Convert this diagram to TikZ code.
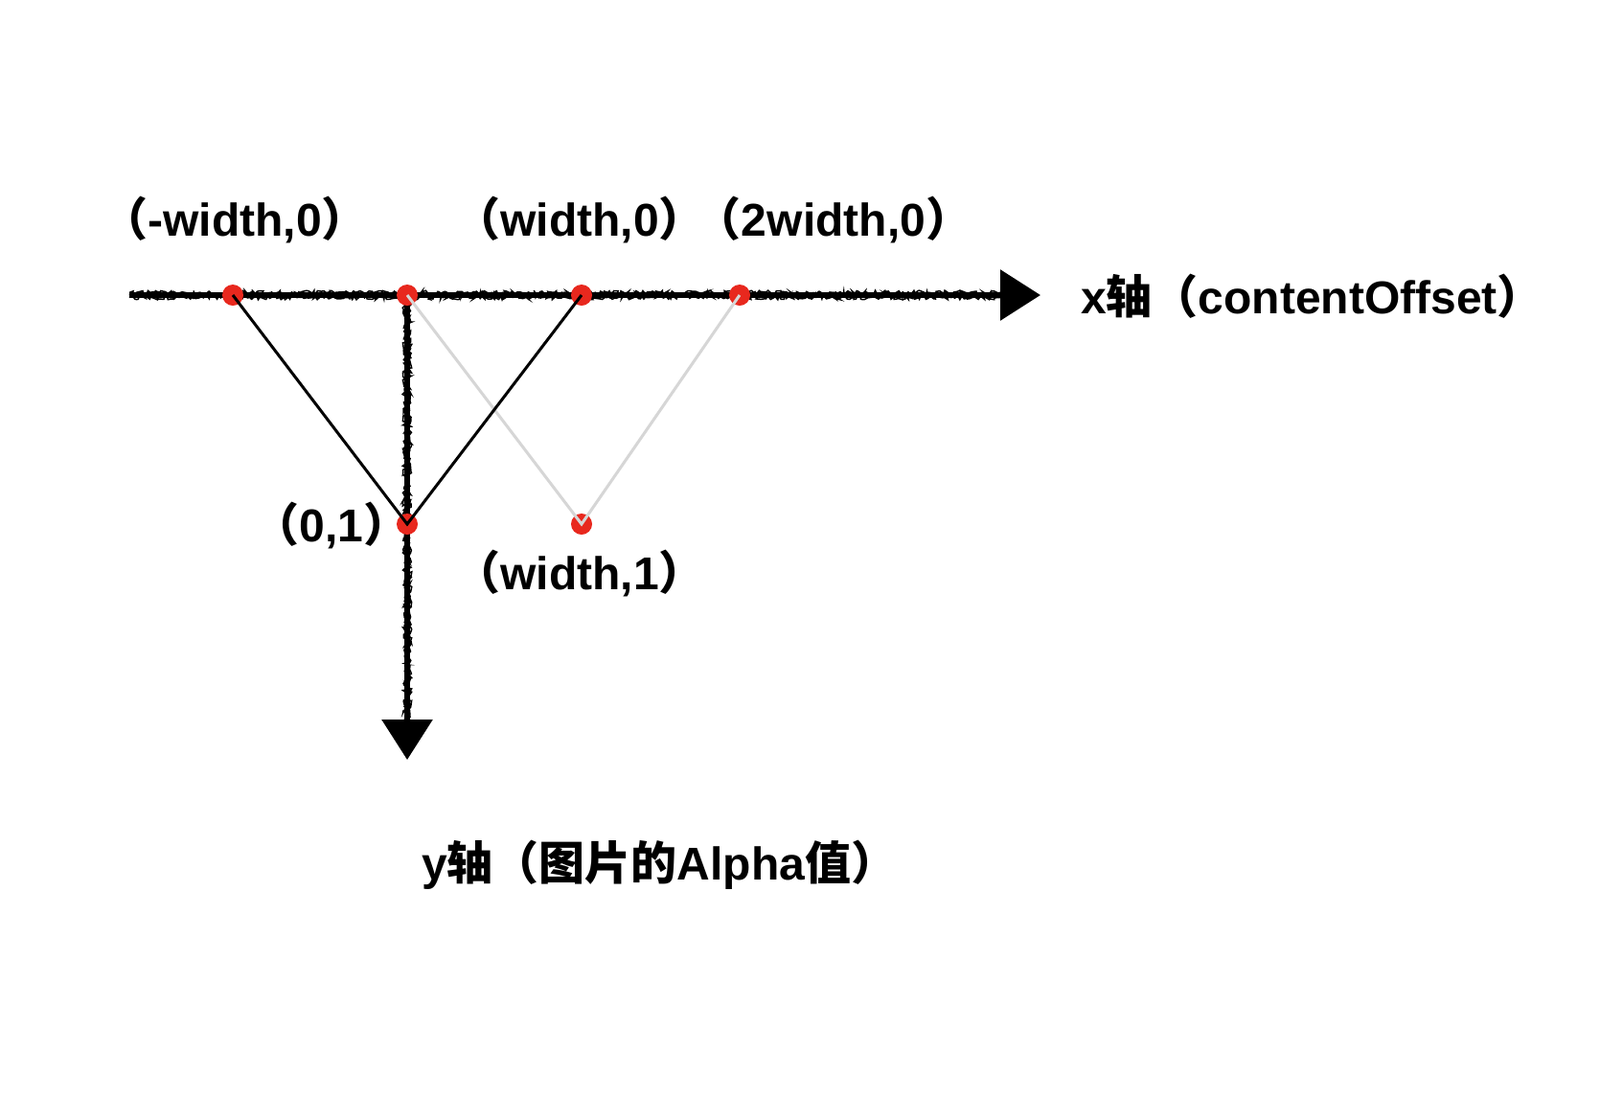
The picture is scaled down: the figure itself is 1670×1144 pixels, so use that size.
\documentclass[tikz,border=0pt]{standalone}
\usepackage{fontspec}
\setmainfont{Liberation Sans}
\newfontfamily\cjk{Noto Sans CJK SC}
\usetikzlibrary{arrows.meta,decorations.pathmorphing}
\newcommand\lpar{{\cjk\bfseries （}}
\newcommand\rpar{{\cjk\bfseries ）}}
\newcommand\zh[1]{{\cjk\bfseries #1}}
\definecolor{dotred}{HTML}{E8281E}
\definecolor{lightg}{HTML}{D6D6D6}
\tikzset{
  lbl/.style={inner sep=0pt, font=\fontsize{48}{56}\selectfont\bfseries},
  dot/.style={circle, fill=dotred, inner sep=0pt, minimum size=22pt},
  chalk/.style={black, line width=6pt},
  chalkrough/.style={black, line width=1.5pt, decorate, decoration={random steps, segment length=2pt, amplitude=2.2pt}},
  blackline/.style={black, line width=3pt},
  greyline/.style={lightg, line width=3pt},
  tipx/.style={-{Triangle[length=42pt,width=52pt]}},
}
\begin{document}
\begin{tikzpicture}[x=1pt,y=-1pt]
\useasboundingbox[fill=white] (0,0) rectangle (1670,1144);
% axes
\coordinate (xs) at (135,308);
\coordinate (xe) at (1086,308);
\coordinate (ys) at (425,308);
\coordinate (ye) at (425,793);
\draw[chalk, tipx] (xs) -- (xe);
\draw[chalk, tipx] (ys) -- (ye);
\foreach \o in {-2.6,0,2.6}{
  \draw[chalkrough] ([yshift=\o pt]xs) -- ([yshift=\o pt,xshift=-42pt]xe);
  \draw[chalkrough] ([xshift=\o pt]ys) -- ([xshift=\o pt,yshift=42pt]ye);
}
% dots
\node[dot] (a) at (243,308) {};
\node[dot] (b) at (425,308) {};
\node[dot] (c) at (607,308) {};
\node[dot] (d) at (772,308) {};
\node[dot] (e) at (425,547) {};
\node[dot] (f) at (607,547) {};
% lines
\draw[greyline] (b.center) -- (f.center) -- (d.center);
\draw[blackline] (a.center) -- (e.center) -- (c.center);
% labels
\node[lbl] (la) at (245,229) {\lpar-width,0\rpar};
\node[lbl] (lc) at (605,229) {\lpar width,0\rpar};
\node[lbl] (ld) at (870,229) {\lpar 2width,0\rpar};
\node[lbl, anchor=west] (lx) at (1128,309) {x\zh{轴}\lpar contentOffset\rpar};
\node[lbl] (le) at (346,548) {\lpar 0,1\rpar};
\node[lbl] (lf) at (605,598) {\lpar width,1\rpar};
\node[lbl, anchor=west] (ly) at (440,903) {y\zh{轴}\lpar\zh{图片的}Alpha\zh{值}\rpar};
\end{tikzpicture}
\end{document}
